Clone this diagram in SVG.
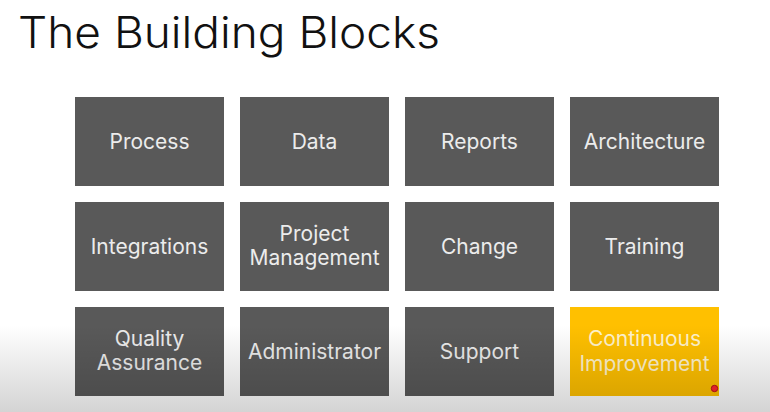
<svg xmlns="http://www.w3.org/2000/svg" width="770" height="412" viewBox="0 0 770 412">
<defs>
<style>
.box{fill:#595959}
.hl{fill:#ffc000}
.t{font-family:"Inter","Liberation Sans",sans-serif;font-size:21px;fill:#ececec;text-anchor:middle}
.ty{fill:#fff3cc}
.title{font-family:"Inter","Liberation Sans",sans-serif;font-size:43px;fill:#111;font-weight:300}
</style>
<linearGradient id="shade" x1="0" y1="0" x2="0" y2="1">
<stop offset="0" stop-color="#000" stop-opacity="0"/>
<stop offset="1" stop-color="#000" stop-opacity="0.17"/>
</linearGradient>
</defs>
<rect width="770" height="412" fill="#fff"/>
<text class="title" x="18" y="48" textLength="422" lengthAdjust="spacingAndGlyphs">The Building Blocks</text>
<g id="process"><rect class="box" x="75" y="97" width="149" height="89"/><text class="t" x="149.5" y="148.5">Process</text></g>
<g id="data"><rect class="box" x="240" y="97" width="149" height="89"/><text class="t" x="314.5" y="148.5">Data</text></g>
<g id="reports"><rect class="box" x="405" y="97" width="149" height="89"/><text class="t" x="479.5" y="148.5">Reports</text></g>
<g id="architecture"><rect class="box" x="570" y="97" width="149" height="89"/><text class="t" x="644.5" y="148.5">Architecture</text></g>
<g id="integrations"><rect class="box" x="75" y="202" width="149" height="89"/><text class="t" x="149.5" y="253.5">Integrations</text></g>
<g id="project-management"><rect class="box" x="240" y="202" width="149" height="89"/><text class="t" x="314.5" y="241">Project</text><text class="t" x="314.5" y="265">Management</text></g>
<g id="change"><rect class="box" x="405" y="202" width="149" height="89"/><text class="t" x="479.5" y="253.5">Change</text></g>
<g id="training"><rect class="box" x="570" y="202" width="149" height="89"/><text class="t" x="644.5" y="253.5">Training</text></g>
<g id="quality-assurance"><rect class="box" x="75" y="307" width="149" height="89"/><text class="t" x="149.5" y="346">Quality</text><text class="t" x="149.5" y="370">Assurance</text></g>
<g id="administrator"><rect class="box" x="240" y="307" width="149" height="89"/><text class="t" x="314.5" y="358.5">Administrator</text></g>
<g id="support"><rect class="box" x="405" y="307" width="149" height="89"/><text class="t" x="479.5" y="358.5">Support</text></g>
<g id="continuous-improvement"><rect class="hl" x="570" y="307" width="149" height="89"/><text class="t ty" x="644.5" y="346">Continuous</text><text class="t ty" x="644.5" y="370.5">Improvement</text></g>
<g id="connectors"></g>
<rect x="0" y="325" width="770" height="87" fill="url(#shade)"/>
<circle cx="714.5" cy="388.5" r="3.2" fill="#e0202a" stroke="#a01015" stroke-width="1"/>
</svg>
